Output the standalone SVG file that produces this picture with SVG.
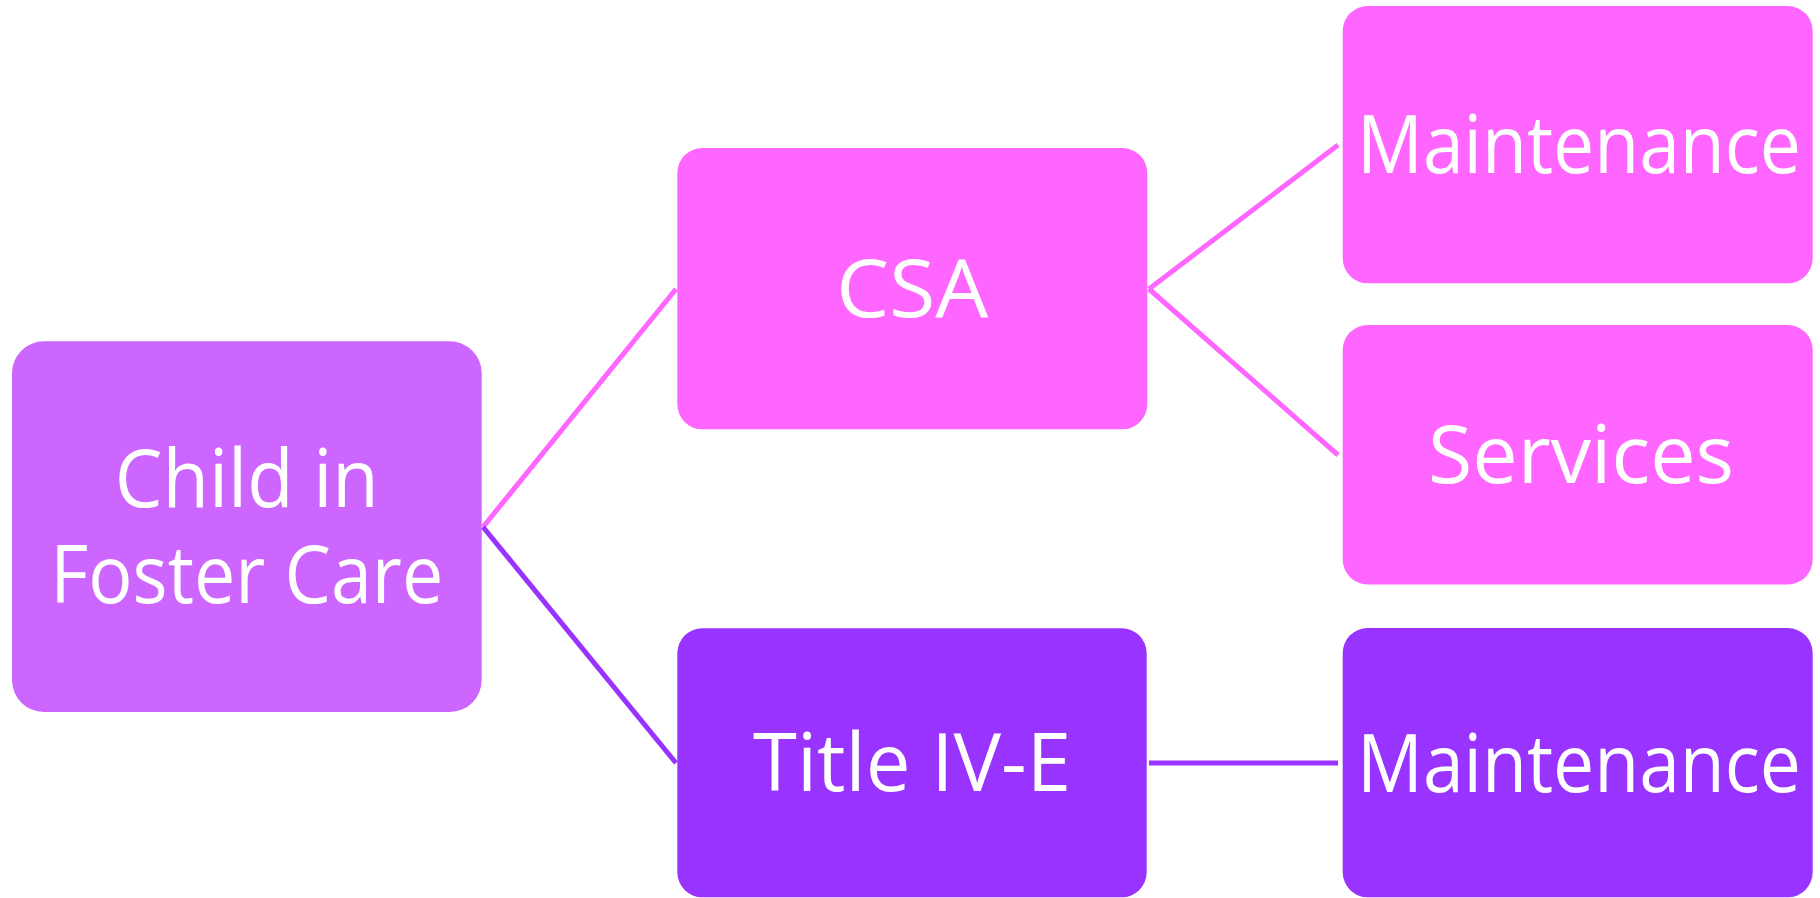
<svg xmlns="http://www.w3.org/2000/svg" width="1820" height="898" viewBox="0 0 1820 898">
<style>
.pink{fill:#FF66FF}
.violet{fill:#CC66FF}
.purple{fill:#9933FF}
.lbl{font-family:"Open Sans","Noto Sans",sans-serif;font-size:80px;fill:#FFFFFF;text-anchor:middle}
.lp{stroke:#FF66FF;stroke-width:5;fill:none}
.lu{stroke:#9933FF;stroke-width:5;fill:none}
</style>
<rect width="1820" height="898" fill="#FFFFFF"/>
<g id="connectors">
<line class="lp" x1="483" y1="527" x2="676" y2="289"/>
<line class="lu" x1="483" y1="527" x2="676" y2="763"/>
<line class="lp" x1="1149" y1="289" x2="1338" y2="145"/>
<line class="lp" x1="1149" y1="289" x2="1338" y2="455"/>
<line class="lu" x1="1149" y1="763" x2="1338" y2="763"/>
</g>
<g id="child">
<rect class="violet" x="12" y="341.3" width="469.7" height="370.7" rx="32"/>
<text class="lbl" x="246.8" y="507" textLength="264" lengthAdjust="spacingAndGlyphs">Child in</text>
<text class="lbl" x="246.8" y="603" textLength="393" lengthAdjust="spacingAndGlyphs">Foster Care</text>
</g>
<g id="csa">
<rect class="pink" x="677.3" y="148" width="470" height="281.3" rx="25"/>
<text class="lbl" x="912.3" y="317" textLength="152" lengthAdjust="spacingAndGlyphs">CSA</text>
</g>
<g id="title-iv-e">
<rect class="purple" x="677.3" y="628.3" width="469.4" height="269" rx="25"/>
<text class="lbl" x="912" y="791" textLength="318" lengthAdjust="spacingAndGlyphs">Title IV-E</text>
</g>
<g id="csa-maintenance">
<rect class="pink" x="1342.7" y="6" width="470" height="277.3" rx="25"/>
<text class="lbl" x="1579" y="173.3" textLength="444" lengthAdjust="spacingAndGlyphs">Maintenance</text>
</g>
<g id="csa-services">
<rect class="pink" x="1342.7" y="325" width="470" height="259.5" rx="25"/>
<text class="lbl" x="1581" y="483" textLength="306" lengthAdjust="spacingAndGlyphs">Services</text>
</g>
<g id="iv-e-maintenance">
<rect class="purple" x="1342.7" y="628" width="470" height="269.3" rx="25"/>
<text class="lbl" x="1579" y="791.5" textLength="444" lengthAdjust="spacingAndGlyphs">Maintenance</text>
</g>
</svg>
